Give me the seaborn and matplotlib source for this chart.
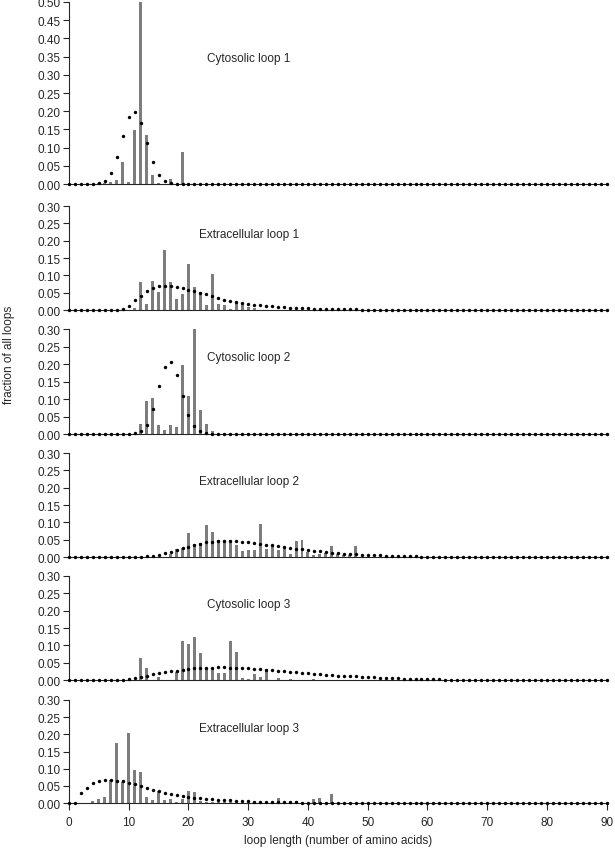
import numpy as np
import matplotlib
matplotlib.use("Agg")
import matplotlib.pyplot as plt
import seaborn as sns

# loop lengths shown on the x axis
lengths = list(range(0, 91))

# observed fractions (bars), each list starts at the given loop length
cyto1_start = 5
cyto1_bars = [0.004, 0.002, 0.006, 0.010, 0.061, 0.005, 0.149, 0.502, 0.135, 0.026,
              0.004, 0.0, 0.014, 0.0, 0.087]
extra1_start = 11
extra1_bars = [0.006, 0.081, 0.018, 0.085, 0.051, 0.173, 0.080, 0.033, 0.047, 0.134,
               0.065, 0.052, 0.013, 0.103, 0.018, 0.013, 0.004, 0.020, 0.017, 0.010, 0.005]
cyto2_start = 12
cyto2_bars = [0.030, 0.094, 0.103, 0.027, 0.011, 0.026, 0.019, 0.198, 0.110, 0.304,
              0.070, 0.030, 0.008]
extra2_start = 17
extra2_bars = [0.010, 0.022, 0.027, 0.068, 0.037, 0.040, 0.093, 0.071, 0.048, 0.048,
               0.048, 0.035, 0.016, 0.020, 0.020, 0.096, 0.024, 0.032, 0.020, 0.030,
               0.008, 0.046, 0.050, 0.014, 0.006, 0.010, 0.012, 0.031, 0.008, 0.006,
               0.005, 0.032]
cyto3_start = 12
cyto3_bars = [0.063, 0.035, 0.0, 0.010, 0.0, 0.0, 0.022, 0.112, 0.104, 0.123,
              0.079, 0.036, 0.036, 0.019, 0.019, 0.112, 0.082, 0.005, 0.003, 0.017,
              0.010, 0.031, 0.0, 0.005, 0.0, 0.003, 0.0, 0.0, 0.0, 0.003]
extra3_start = 4
extra3_bars = [0.005, 0.0125, 0.019, 0.066, 0.175, 0.060, 0.203, 0.096, 0.090, 0.019,
               0.008, 0.035, 0.008, 0.0125, 0.003, 0.0125, 0.035, 0.031, 0.006, 0.004,
               0.003, 0.003, 0.002, 0.004, 0.0, 0.0, 0.0, 0.0, 0.0, 0.0,
               0.0, 0.0145, 0.0, 0.0, 0.005, 0.0, 0.0, 0.0115, 0.016, 0.0, 0.027]

# fitted distributions (dots)
cyto1_fit_start = 4
cyto1_fit = [0.001, 0.002, 0.009, 0.031, 0.074, 0.133, 0.183, 0.197, 0.167, 0.112,
             0.060, 0.026, 0.009, 0.003, 0.001]
extra1_fit_start = 9
extra1_fit = [0.002, 0.0125, 0.028, 0.041, 0.054, 0.0625, 0.068, 0.070, 0.070, 0.067,
              0.0635, 0.0585, 0.055, 0.049, 0.045, 0.040, 0.034, 0.030, 0.026, 0.022,
              0.020, 0.017, 0.015, 0.013, 0.0115, 0.0105, 0.0087, 0.0078, 0.007, 0.0062,
              0.0055, 0.0048, 0.0042, 0.0037, 0.0032, 0.0028, 0.0025, 0.0022, 0.0019, 0.0016,
              0.0014, 0.0012, 0.001, 0.0008, 0.0007, 0.0006]
cyto2_fit_start = 11
cyto2_fit = [0.002, 0.008, 0.027, 0.072, 0.136, 0.192, 0.207, 0.170, 0.110, 0.055,
             0.022, 0.008, 0.003, 0.001]
extra2_fit_start = 12
extra2_fit = [0.001, 0.002, 0.004, 0.007, 0.011, 0.015, 0.020, 0.025, 0.030, 0.035,
              0.039, 0.042, 0.044, 0.045, 0.046, 0.046, 0.045, 0.044, 0.042, 0.040,
              0.039, 0.036, 0.034, 0.031, 0.029, 0.026, 0.024, 0.022, 0.019, 0.017,
              0.016, 0.014, 0.0125, 0.0115, 0.010, 0.009, 0.008, 0.007, 0.006, 0.0052,
              0.0045, 0.0038, 0.0032, 0.0027, 0.0023, 0.0019, 0.0016, 0.0013, 0.001, 0.0008,
              0.0006]
cyto3_fit_start = 9
cyto3_fit = [0.001, 0.003, 0.005, 0.009, 0.0125, 0.016, 0.019, 0.022, 0.025, 0.027,
             0.030, 0.032, 0.034, 0.035, 0.036, 0.036, 0.037, 0.037, 0.036, 0.035,
             0.035, 0.034, 0.032, 0.031, 0.029, 0.028, 0.026, 0.025, 0.023, 0.022,
             0.020, 0.019, 0.018, 0.017, 0.015, 0.014, 0.013, 0.0125, 0.0115, 0.0105,
             0.0095, 0.0085, 0.0077, 0.007, 0.0062, 0.0055, 0.0048, 0.0042, 0.0036, 0.0031,
             0.0027, 0.0023, 0.002, 0.0017, 0.0014, 0.0012, 0.001, 0.0008]
extra3_fit_start = 1
extra3_fit = [0.001, 0.028, 0.045, 0.058, 0.064, 0.0675, 0.068, 0.065, 0.063, 0.059,
              0.054, 0.049, 0.043, 0.0385, 0.034, 0.030, 0.026, 0.023, 0.020, 0.017,
              0.0155, 0.0135, 0.0115, 0.0105, 0.0095, 0.0087, 0.0077, 0.0068, 0.0058, 0.0048,
              0.0042, 0.0037, 0.0033, 0.003, 0.0027, 0.0024, 0.0021, 0.0018, 0.0015, 0.0013,
              0.0011, 0.001, 0.0008, 0.0006]

panel_titles = ["Cytosolic loop 1", "Extracellular loop 1", "Cytosolic loop 2",
                "Extracellular loop 2", "Cytosolic loop 3", "Extracellular loop 3"]
panel_ymax = [0.50, 0.30, 0.30, 0.30, 0.30, 0.30]


def pad(values, start):
    # place a partial series onto the full 0..90 range
    full = [0.0] * len(lengths)
    for i, v in enumerate(values):
        full[start + i] = v
    return full


bars = [pad(cyto1_bars, cyto1_start), pad(extra1_bars, extra1_start),
        pad(cyto2_bars, cyto2_start), pad(extra2_bars, extra2_start),
        pad(cyto3_bars, cyto3_start), pad(extra3_bars, extra3_start)]
fits = [pad(cyto1_fit, cyto1_fit_start), pad(extra1_fit, extra1_fit_start),
        pad(cyto2_fit, cyto2_fit_start), pad(extra2_fit, extra2_fit_start),
        pad(cyto3_fit, cyto3_fit_start), pad(extra3_fit, extra3_fit_start)]

sns.set_style("ticks")
plt.rcParams["font.family"] = ["Liberation Sans", "DejaVu Sans"]
plt.rcParams["font.size"] = 8.5

fig = plt.figure(figsize=(6.15, 8.53), dpi=100)

# panel extents in figure fraction (bottom, top)
panel_pos = [(0.7831, 0.9965), (0.6354, 0.7573), (0.4900, 0.6131),
             (0.3458, 0.4677), (0.2016, 0.3236), (0.0574, 0.1782)]
left, right = 0.1122, 0.9865

for i in range(6):
    bottom, top = panel_pos[i]
    ax = fig.add_axes([left, bottom, right - left, top - bottom])

    sns.barplot(x=lengths, y=bars[i], native_scale=True, width=0.5,
                color="#7d7d7d", saturation=1, linewidth=0, errorbar=None, ax=ax)
    sns.scatterplot(x=lengths, y=fits[i], color="black", s=6, linewidth=0,
                    ax=ax, clip_on=False, zorder=3)

    ax.set_xlim(0, 90)
    ax.set_ylim(0, panel_ymax[i])
    yt = np.arange(0, panel_ymax[i] + 0.001, 0.05)
    ax.set_yticks(yt)
    ax.set_yticklabels([f"{t:.2f}" for t in yt])
    ax.tick_params(axis="y", direction="out", length=4, width=0.8, pad=2, labelsize=8.5)
    for side in ["top", "right"]:
        ax.spines[side].set_visible(False)
    ax.spines["left"].set_linewidth(0.8)
    ax.spines["bottom"].set_linewidth(0.8)
    ax.set_xlabel("")
    ax.set_ylabel("")

    # panel title
    ax.text(0.257 if i % 2 == 0 else 0.242, 0.69 if i == 0 else 0.73, panel_titles[i],
            transform=ax.transAxes, ha="left", va="center", fontsize=8.5)

    if i < 5:
        ax.set_xticks([])
    else:
        ax.set_xticks(range(0, 91, 10))
        ax.set_xticklabels([str(t) for t in range(0, 91, 10)])
        ax.tick_params(axis="x", direction="out", length=5, width=0.8, pad=4, labelsize=8.5)
        ax.set_xlabel("loop length (number of amino acids)", fontsize=8.5, labelpad=5)

fig.text(0.014, 0.584, "fraction of all loops", rotation=90, ha="center", va="center",
         fontsize=8.5)

plt.savefig("out.png", dpi=100)
